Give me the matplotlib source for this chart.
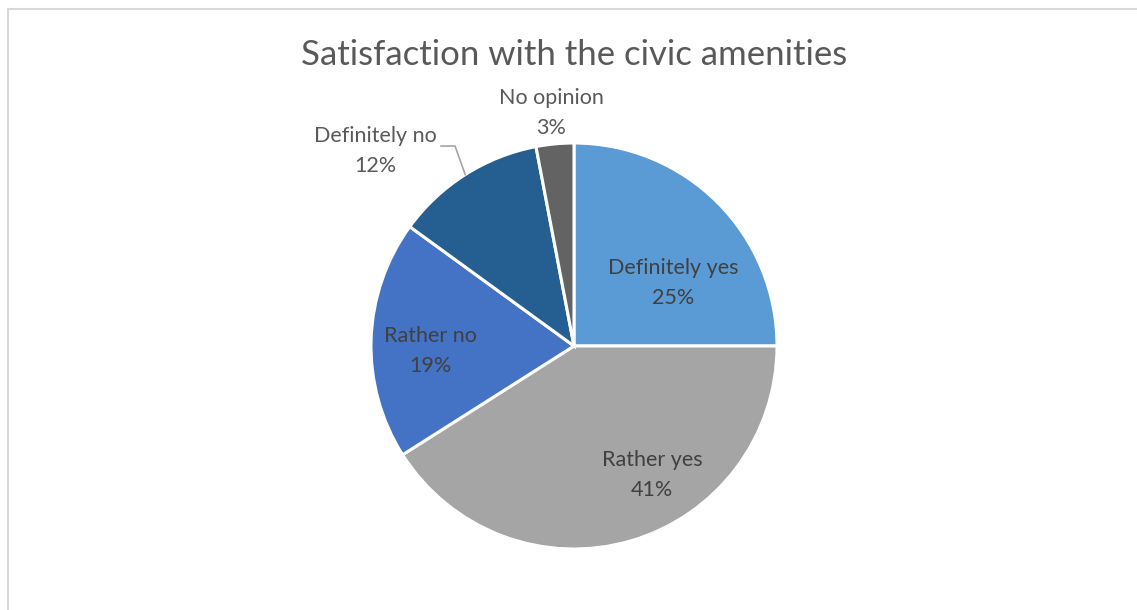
import matplotlib.pyplot as plt
import numpy as np

# dane
labels = ["Definitely yes", "Rather yes", "Rather no", "Definitely no", "No opinion"]
values = [25, 41, 19, 12, 3]
colors = ["#5B9BD5", "#A5A5A5", "#4472C4", "#255E91", "#636363"]

# label positions (pie radius = 1)
label_pos = [(0.49, 0.31), (0.384, -0.635), (-0.709, -0.025), (-0.98, 0.96), (-0.113, 1.148)]

plt.rcParams['font.family'] = ['Lato', 'DejaVu Sans']

W, H = 1137, 610
fig = plt.figure(figsize=(W / 100, H / 100), dpi=100)
fig.patch.set_facecolor('white')

# pie center (574, 346) px, radius 203 px
cx, cy, r = 574, 346, 203
lim = 1.3
half = r * lim
ax = fig.add_axes([(cx - half) / W, (H - cy - half) / H, 2 * half / W, 2 * half / H])

wedges, _ = ax.pie(values, colors=colors, startangle=90, counterclock=False,
                   wedgeprops=dict(edgecolor='white', linewidth=2.2))
ax.set_xlim(-lim, lim)
ax.set_ylim(-lim, lim)
ax.axis('off')

for i, (lab, v) in enumerate(zip(labels, values)):
    x, y = label_pos[i]
    inside = i < 3
    ax.text(x, y, f"{lab}\n{v}%", ha='center', va='center', fontsize=15.5,
            color='#404040' if inside else '#595959', linespacing=1.65)

# leader line for "Definitely no"
w = wedges[3]
mid = np.deg2rad((w.theta1 + w.theta2) / 2)
ex, ey = np.cos(mid), np.sin(mid)
ax.plot([-0.655, -0.586, ex], [0.985, 0.985, ey], color='#A6A6A6', lw=1.2, clip_on=False)

fig.text(cx / W, 1 - 65 / H, "Satisfaction with the civic amenities", ha='center', va='baseline',
         fontsize=25, color='#595959')

# ramka
fig.patches.append(plt.Rectangle((7.5 / W, -0.1), 1.2, 1 - 8.5 / H + 0.1, transform=fig.transFigure,
                                 fill=False, edgecolor='#D9D9D9', lw=1.5))

fig.savefig("out.png", dpi=100)
